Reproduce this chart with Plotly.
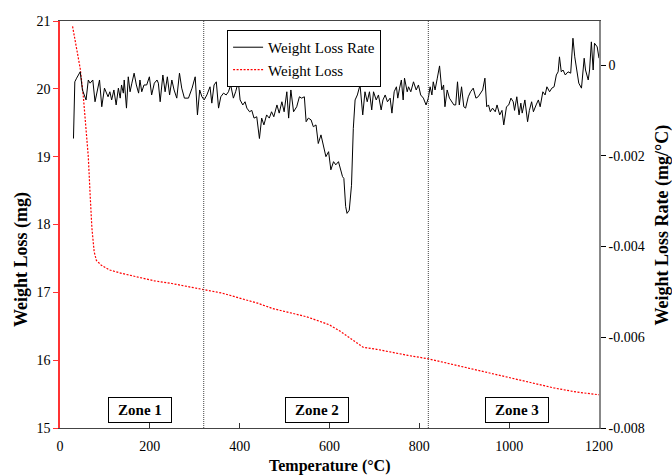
import plotly.graph_objects as go

# ---------------- data ----------------
# Weight loss curve (left axis, mg)
temp_weight = [28, 45, 52, 63, 67, 71, 76, 81, 92, 110, 137, 174, 210, 249, 285, 320,
               360, 400, 440, 474, 510, 549, 575, 600, 623, 653, 675, 705, 734, 775,
               820, 860, 898, 950, 1013, 1060, 1100, 1150, 1200]
weight_loss = [20.92, 20.30, 19.88, 19.00, 18.45, 17.95, 17.60, 17.47, 17.40, 17.33, 17.28,
               17.22, 17.17, 17.13, 17.08, 17.04, 16.99, 16.92, 16.84, 16.76, 16.70, 16.64,
               16.58, 16.52, 16.43, 16.29, 16.19, 16.16, 16.12, 16.07, 16.02, 15.96, 15.90,
               15.82, 15.72, 15.65, 15.59, 15.53, 15.49]

# Weight loss rate (right axis, mg/°C)
temp_rate = [30, 33, 37, 45, 50, 58, 63, 67, 73, 78, 88, 93, 99, 107, 111, 115, 120, 125,
             130, 134, 137, 141, 143, 148, 152, 156, 160, 165, 170, 175, 178, 182, 187, 193,
             199, 204, 210, 216, 219, 223, 229, 234, 239, 244, 249, 254, 260, 266, 271, 277,
             286, 294, 301, 306, 311, 316, 321, 327, 334, 338, 343, 348, 353, 358, 364, 370,
             375, 380, 386, 391, 397, 401, 407, 412, 416, 422, 427, 432, 438, 444, 449, 454,
             460, 466, 471, 476, 483, 488, 494, 499, 505, 509, 514, 520, 527, 533, 538, 544,
             548, 553, 559, 564, 570, 575, 581, 586, 592, 598, 603, 609, 614, 620, 625, 629,
             632, 636, 639, 644, 649, 653, 657, 662, 668, 674, 679, 684, 689, 694, 698, 704,
             709, 715, 719, 724, 729, 735, 739, 744, 749, 752, 756, 760, 764, 767, 773, 776,
             781, 787, 793, 798, 803, 809, 815, 820, 824, 828, 831, 835, 840, 845, 850, 854,
             857, 862, 867, 872, 877, 881, 885, 889, 894, 899, 903, 909, 914, 920, 926, 931,
             936, 941, 946, 950, 954, 958, 963, 969, 973, 979, 984, 988, 994, 999, 1004, 1009,
             1012, 1017, 1022, 1026, 1029, 1035, 1041, 1045, 1050, 1054, 1060, 1065, 1069,
             1075, 1080, 1084, 1090, 1095, 1100, 1105, 1109, 1112, 1116, 1120, 1125, 1131,
             1137, 1142, 1146, 1152, 1155, 1161, 1167, 1170, 1176, 1179, 1183, 1187, 1190,
             1196, 1200]
loss_rate = [-0.00162, -0.00037, -0.00029, -0.00015, -0.00055, -0.00077, -0.00033, -0.00040,
             -0.00033, -0.00081, -0.00033, -0.00092, -0.00051, -0.00070, -0.00059, -0.00077,
             -0.00055, -0.00088, -0.00051, -0.00073, -0.00044, -0.00062, -0.00033, -0.00095,
             -0.00026, -0.00059, -0.00040, -0.00018, -0.00044, -0.00062, -0.00033, -0.00059,
             -0.00044, -0.00044, -0.00026, -0.00066, -0.00040, -0.00033, -0.00040, -0.00081,
             -0.00022, -0.00059, -0.00026, -0.00066, -0.00033, -0.00055, -0.00073, -0.00018,
             -0.00051, -0.00073, -0.00073, -0.00051, -0.00026, -0.00110, -0.00055, -0.00070,
             -0.00077, -0.00066, -0.00048, -0.00084, -0.00044, -0.00037, -0.00095, -0.00070,
             -0.00062, -0.00066, -0.00059, -0.00044, -0.00073, -0.00059, -0.00037, -0.00077,
             -0.00088, -0.00081, -0.00095, -0.00103, -0.00100, -0.00117, -0.00114, -0.00162,
             -0.00117, -0.00132, -0.00110, -0.00117, -0.00103, -0.00114, -0.00088, -0.00106,
             -0.00081, -0.00103, -0.00059, -0.00117, -0.00055, -0.00103, -0.00092, -0.00070,
             -0.00073, -0.00070, -0.00125, -0.00117, -0.00121, -0.00136, -0.00132, -0.00173,
             -0.00154, -0.00176, -0.00202, -0.00191, -0.00231, -0.00213, -0.00220, -0.00213,
             -0.00231, -0.00246, -0.00250, -0.00312, -0.00327, -0.00320, -0.00265, -0.00140,
             -0.00077, -0.00066, -0.00044, -0.00110, -0.00059, -0.00081, -0.00059, -0.00099,
             -0.00059, -0.00077, -0.00066, -0.00099, -0.00077, -0.00066, -0.00081, -0.00073,
             -0.00106, -0.00059, -0.00048, -0.00073, -0.00051, -0.00033, -0.00077, -0.00029,
             -0.00059, -0.00048, -0.00059, -0.00037, -0.00055, -0.00044, -0.00066, -0.00073,
             -0.00088, -0.00073, -0.00048, -0.00066, -0.00037, -0.00055, -0.00029, -0.00002,
             -0.00055, -0.00044, -0.00092, -0.00055, -0.00073, -0.00081, -0.00088, -0.00088,
             -0.00037, -0.00088, -0.00048, -0.00092, -0.00095, -0.00070, -0.00059, -0.00051,
             -0.00073, -0.00070, -0.00062, -0.00055, -0.00029, -0.00092, -0.00088, -0.00103,
             -0.00095, -0.00103, -0.00088, -0.00110, -0.00100, -0.00132, -0.00092, -0.00088,
             -0.00073, -0.00081, -0.00100, -0.00070, -0.00110, -0.00084, -0.00106, -0.00077,
             -0.00125, -0.00100, -0.00081, -0.00103, -0.00088, -0.00077, -0.00092, -0.00059,
             -0.00066, -0.00048, -0.00059, -0.00051, -0.00048, -0.00022, -0.00015, 0.00018,
             -0.00015, -0.00011, -0.00022, -0.00015, -0.00018, 0.00059, 0.00018, -0.00015,
             -0.00040, -0.00051, 0.00015, -0.00011, -0.00033, -0.00011, 0.00051, -0.00011,
             0.00048, 0.00040, 0.00015]

# ticks / labels
x_ticks = [0, 200, 400, 600, 800, 1000, 1200]
y_left_ticks = [15, 16, 17, 18, 19, 20, 21]
y_right_ticks = [-0.008, -0.006, -0.004, -0.002, 0]
y_right_labels = ["-0.008", "-0.006", "-0.004", "-0.002", "0"]
zone_boundaries = [320, 820]
zone_labels = ["Zone 1", "Zone 2", "Zone 3"]
zone_centers = [178, 573, 1018]
zone_label_level = 15.27

x_title = "Temperature (°C)"
y_left_title = "Weight Loss (mg)"
y_right_title = "Weight Loss Rate (mg/°C)"

FONT = "Liberation Serif, Times New Roman, serif"

fig = go.Figure()
fig.add_trace(go.Scatter(
    x=temp_rate, y=loss_rate, mode="lines", name="Weight Loss Rate",
    line=dict(color="black", width=1), yaxis="y2"))
fig.add_trace(go.Scatter(
    x=temp_weight, y=weight_loss, mode="lines", name="Weight Loss",
    line=dict(color="#ff0000", width=1.2, dash="2px,1.5px"), yaxis="y"))

for xb in zone_boundaries:
    fig.add_shape(type="line", x0=xb, x1=xb, xref="x", y0=0, y1=1, yref="paper",
                  line=dict(color="#444444", width=1, dash="1px,1px"))

for lab, xc in zip(zone_labels, zone_centers):
    fig.add_annotation(x=xc, y=zone_label_level, xref="x", yref="y", text="<b>%s</b>" % lab,
                       showarrow=False, font=dict(family=FONT, size=15, color="black"),
                       bordercolor="black", borderwidth=1, borderpad=3, bgcolor="white",
                       width=56, height=18)

# axis titles as annotations (positioned like the reference)
fig.add_annotation(x=0.5, y=-0.093, xref="paper", yref="paper", text="<b>%s</b>" % x_title,
                   showarrow=False, xanchor="center", yanchor="middle",
                   font=dict(family=FONT, size=16, color="black"))
fig.add_annotation(x=-0.0705, y=0.413, xref="paper", yref="paper", text="<b>%s</b>" % y_left_title,
                   showarrow=False, textangle=-90, xanchor="center", yanchor="middle",
                   font=dict(family=FONT, size=18, color="black"))
fig.add_annotation(x=1.1187, y=0.50, xref="paper", yref="paper", text="<b>%s</b>" % y_right_title,
                   showarrow=False, textangle=-90, xanchor="center", yanchor="middle",
                   font=dict(family=FONT, size=18, color="black"))

fig.update_layout(
    width=672, height=476,
    margin=dict(l=60, r=73, t=21, b=48),
    paper_bgcolor="white", plot_bgcolor="white",
    font=dict(family=FONT, size=14, color="black"),
    showlegend=True,
    legend=dict(x=0.31, y=0.978, xanchor="left", yanchor="top",
                bgcolor="white", bordercolor="black", borderwidth=1,
                font=dict(family=FONT, size=15, color="black"),
                itemwidth=30, tracegroupgap=0,
                entrywidth=101, entrywidthmode="pixels"),
    xaxis=dict(range=[0, 1200], tickvals=x_ticks, ticks="inside", ticklen=5,
               tickcolor="#333333", showline=True, linecolor="#444444", linewidth=1,
               mirror=True, showgrid=False, zeroline=False, ticklabelstandoff=5),
    yaxis=dict(range=[15, 21], tickvals=y_left_ticks, ticks="outside", ticklen=5,
               tickcolor="#ff3333", showline=True, linecolor="#ff3333", linewidth=1.5,
               showgrid=False, zeroline=False),
    yaxis2=dict(range=[-0.008, 0.00097], overlaying="y", side="right",
                tickvals=y_right_ticks, ticktext=y_right_labels, ticks="outside", ticklen=5,
                tickcolor="black", showline=True, linecolor="#888888", linewidth=1.5,
                showgrid=False, zeroline=False),
)

fig.write_html("out.html", config={"displayModeBar": False},
               post_script="document.body.style.margin='0px';")
